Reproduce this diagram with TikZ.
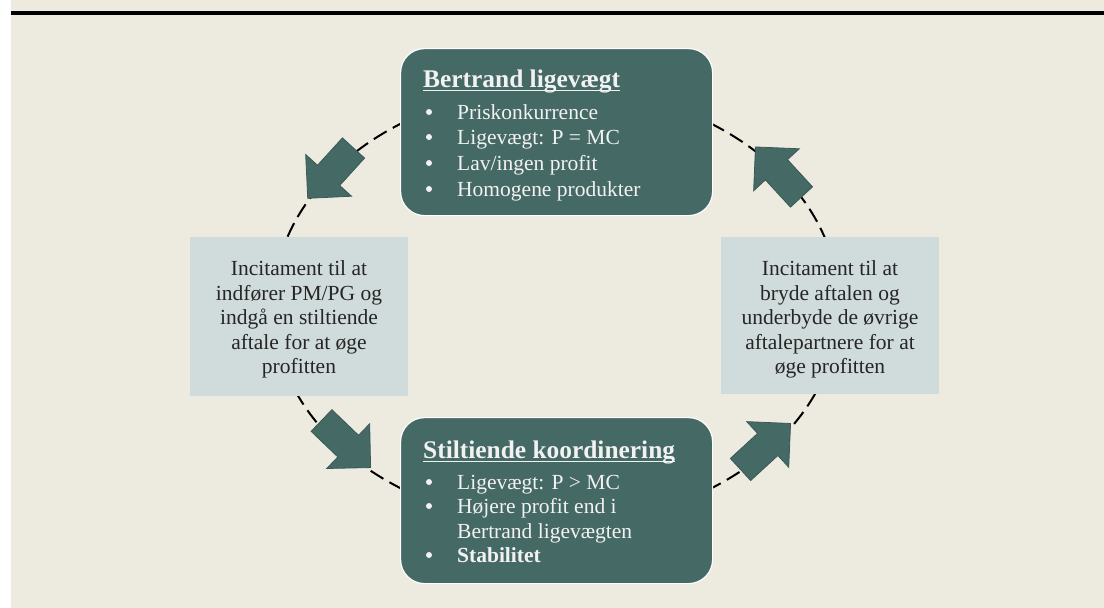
\documentclass[tikz,border=0pt]{standalone}
\usepackage{fontspec}
\setmainfont{Liberation Serif}
\definecolor{bgbeige}{HTML}{EDEAE0}
\definecolor{tealbox}{HTML}{456965}
\definecolor{tealedge}{HTML}{3A5A57}
\definecolor{litebox}{HTML}{D0DBDB}
\definecolor{darktext}{HTML}{262626}
\definecolor{lighttext}{HTML}{F2F2F2}
\begin{document}
\begin{tikzpicture}[x=1pt,y=-1pt,
  darkbox/.style={draw=white, line width=1.2pt, fill=tealbox, rounded corners=24pt, anchor=north west, inner sep=0pt},
  lightbox/.style={fill=litebox, draw=none, anchor=north west, inner sep=0pt},
  titletxt/.style={font=\fontsize{25.4}{30}\selectfont\bfseries, text=lighttext, inner sep=0pt, anchor=base west},
  bodytxt/.style={font=\fontsize{21.5}{25}\selectfont, text=lighttext, inner sep=0pt, anchor=base west},
  bulletdot/.style={circle, fill=lighttext, draw=none, inner sep=0pt, minimum size=6pt, yshift=7pt},
  inctxt/.style={font=\fontsize{21.5}{25}\selectfont, text=darktext, inner sep=0pt, anchor=base},
  cyclepath/.style={draw=black, line width=2pt, dash pattern=on 15pt off 7pt},
  bigarr/.style={fill=tealbox, draw=tealedge, line width=0.8pt, line join=miter},
  ulline/.style={draw=lighttext, line width=1.5pt}
]
\useasboundingbox (0,0) rectangle (1104,608);
\fill[white] (0,0) rectangle (1104,608);
\fill[bgbeige] (11,0) rectangle (1104,608);
\fill[black] (11,11) rectangle (1104,14.5);

% dashed cycle
\coordinate (ctr) at (556,306);
\draw[cyclepath] (ctr) ellipse [x radius=283pt, y radius=218pt];

% top box
\node[darkbox, minimum width=312pt, minimum height=167pt] (bert) at (400,48) {};
\node[titletxt] (bertT) at (423,87) {Bertrand ligevægt};
\draw[ulline] ([yshift=-3.5pt]bertT.base west) -- ([yshift=-3.5pt]bertT.base east);
\node[bulletdot] (bb1) at (429,119) {};
\node[bodytxt] (bt1) at (457,119) {Priskonkurrence};
\node[bulletdot] (bb2) at (429,144) {};
\node[bodytxt] (bt2) at (457,144) {Ligevægt: P = MC};
\node[bulletdot] (bb3) at (429,170) {};
\node[bodytxt] (bt3) at (457,170) {Lav/ingen profit};
\node[bulletdot] (bb4) at (429,196) {};
\node[bodytxt] (bt4) at (457,196) {Homogene produkter};

% bottom box
\node[darkbox, minimum width=312pt, minimum height=166pt] (stilt) at (400,417) {};
\node[titletxt] (stiltT) at (423,458) {Stiltiende koordinering};
\draw[ulline] ([yshift=-3.5pt]stiltT.base west) -- ([yshift=-3.5pt]stiltT.base east);
\node[bulletdot] (sb1) at (429,489) {};
\node[bodytxt] (st1) at (457,489) {Ligevægt: P > MC};
\node[bulletdot] (sb2) at (429,513) {};
\node[bodytxt] (st2) at (457,513) {Højere profit end i};
\node[bodytxt] (st2b) at (457,538) {Bertrand ligevægten};
\node[bulletdot] (sb3) at (429,562) {};
\node[bodytxt, font=\fontsize{21.5}{25}\selectfont\bfseries] (st3) at (457,562) {Stabilitet};

% left box
\node[lightbox, minimum width=218pt, minimum height=159pt] (incL) at (190,237) {};
\node[inctxt] (l1) at (299,275.5) {Incitament til at};
\node[inctxt] (l2) at (299,300) {indfører PM/PG og};
\node[inctxt] (l3) at (299,324.5) {indgå en stiltiende};
\node[inctxt] (l4) at (299,349) {aftale for at øge};
\node[inctxt] (l5) at (299,373.5) {profitten};

% right box
\node[lightbox, minimum width=218pt, minimum height=157pt] (incR) at (721,237) {};
\node[inctxt] (r1) at (830,275.5) {Incitament til at};
\node[inctxt] (r2) at (830,300) {bryde aftalen og};
\node[inctxt] (r3) at (830,324.5) {underbyde de øvrige};
\node[inctxt] (r4) at (830,349) {aftalepartnere for at};
\node[inctxt] (r5) at (830,373.5) {øge profitten};

% block arrows
\path[bigarr, shift={(353.5,148)}, rotate=227.7] (0,-15) -- (37,-15) -- (37,-31) -- (68,0) -- (37,31) -- (37,15) -- (0,15) -- cycle;
\path[bigarr, shift={(801.5,197)}, rotate=132.6] (0,-15) -- (37,-15) -- (37,-31) -- (68,0) -- (37,31) -- (37,15) -- (0,15) -- cycle;
\path[bigarr, shift={(321.5,420.5)}, rotate=-43.8] (0,-15) -- (37,-15) -- (37,-31) -- (68,0) -- (37,31) -- (37,15) -- (0,15) -- cycle;
\path[bigarr, shift={(740.5,469.5)}, rotate=42.6] (0,-15) -- (37,-15) -- (37,-31) -- (68,0) -- (37,31) -- (37,15) -- (0,15) -- cycle;
\end{tikzpicture}
\end{document}
